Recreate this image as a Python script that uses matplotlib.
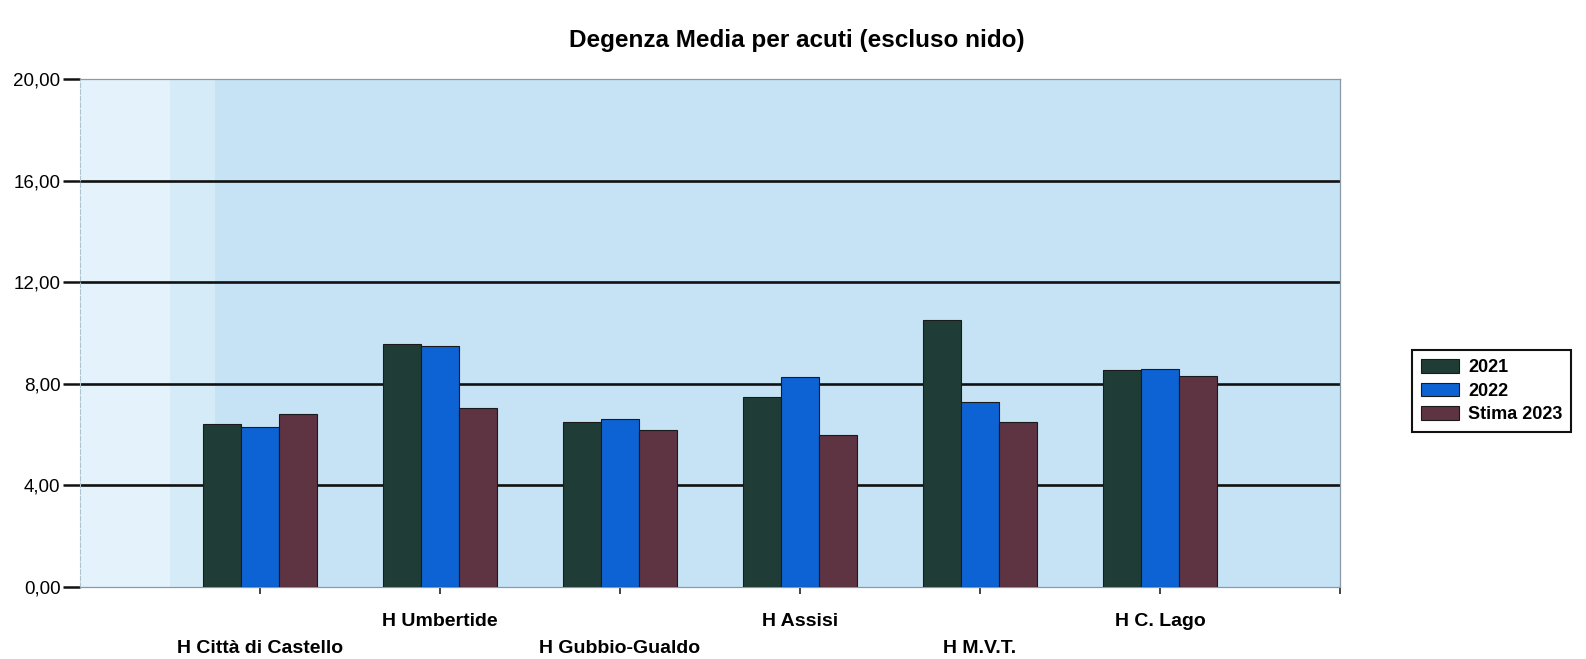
import numpy as np
import matplotlib
matplotlib.use("Agg")
from matplotlib import pyplot as plt
from matplotlib.ticker import FuncFormatter

plt.rcParams['font.family'] = ['Liberation Sans', 'DejaVu Sans']

# values
ospedali = ["H Città di Castello", "H Umbertide", "H Gubbio-Gualdo",
            "H Assisi", "H M.V.T.", "H C. Lago"]
anni = ["2021", "2022", "Stima 2023"]
dm_2021 = [6.4, 9.55, 6.5, 7.5, 10.5, 8.55]
dm_2022 = [6.3, 9.5, 6.6, 8.25, 7.3, 8.6]
dm_2023 = [6.8, 7.05, 6.2, 6.0, 6.5, 8.3]
y_ticks = [0, 4, 8, 12, 16, 20]

colori = ['#1f3d36', '#0d62d4', '#5e3442']

fig = plt.figure(figsize=(15.86, 6.59), dpi=100)
ax = fig.add_axes([80 / 1586, 1 - 587 / 659, 1260 / 1586, 508 / 659])
ax.set_facecolor('#c6e3f5')
# paler strip on the left of the plot area (as in the scan)
ax.axvspan(0, 0.5, color='#e3f2fb', lw=0, zorder=0)
ax.axvspan(0.5, 0.75, color='#d6ebf8', lw=0, zorder=0)

x = np.arange(1, len(ospedali) + 1)
w = 0.21
for k, (serie, col) in enumerate(zip([dm_2021, dm_2022, dm_2023], colori)):
    ax.bar(x + (k - 1) * w, serie, w, color=col, edgecolor='#1a1a1a', lw=0.8,
           label=anni[k], zorder=3)

ax.set_xlim(0, 7)
ax.set_ylim(0, 20)
ax.set_yticks(y_ticks)
ax.yaxis.set_major_formatter(FuncFormatter(lambda v, p: f"{v:.2f}".replace('.', ',')))
for v in y_ticks[1:-1]:
    ax.axhline(v, color='#111111', lw=1.9, zorder=2)

ax.set_xticks(x)
ax.set_xticklabels(ospedali, fontsize=14, fontweight='bold')
ax.set_xticks([7], minor=True)
ax.tick_params(axis='x', which='both', length=5, width=1.2, color='#222222', pad=14)
ax.tick_params(axis='y', length=12, width=1.8, color='#111111', pad=2, labelsize=13.5)
# staggered category labels
for i, t in enumerate(ax.xaxis.get_major_ticks()):
    if i % 2 == 0:
        t.set_pad(33)

for s in ['top', 'right', 'bottom']:
    ax.spines[s].set_color('#8a9aa5')
    ax.spines[s].set_linewidth(0.9)
ax.spines['left'].set_color('#b0c4d0')
ax.spines['left'].set_linestyle((0, (4, 2)))
ax.spines['left'].set_linewidth(0.8)

fig.text(797 / 1586, 1 - 40 / 659, "Degenza Media per acuti (escluso nido)",
         ha='center', va='center', fontsize=17.5, fontweight='bold')

leg = fig.legend(loc='upper left', bbox_to_anchor=(1412 / 1586, 1 - 350 / 659),
                 prop={'weight': 'bold', 'size': 13}, fancybox=False,
                 edgecolor='#111111', framealpha=1, borderaxespad=0,
                 handlelength=2.1, handleheight=0.8, handletextpad=0.5,
                 labelspacing=0.35, borderpad=0.5)
leg.get_frame().set_linewidth(1.5)

fig.savefig("out.png", dpi=100)
